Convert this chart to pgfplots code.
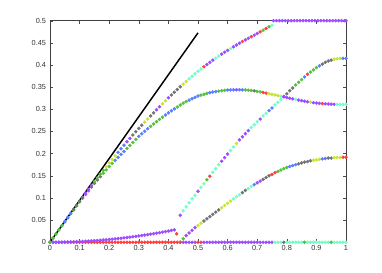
\documentclass[border=0pt]{standalone}
\usepackage{fontspec}
\setmainfont{Liberation Sans}
\usepackage{pgfplots}
\usepackage{pgfplotstable}
\pgfplotsset{compat=1.18}
\definecolor{cr}{rgb}{1,0.25,0.25}
\definecolor{cg}{rgb}{0.35,0.75,0.25}
\definecolor{cb}{rgb}{0.35,0.5,1}
\definecolor{ck}{rgb}{0.45,0.45,0.45}
\definecolor{cy}{rgb}{0.78,0.9,0.2}
\definecolor{cp}{rgb}{0.62,0.3,1}
\definecolor{ca}{rgb}{0.45,1,0.78}
\pgfplotstableread{
x y c
0.00 0.0000 g
0.01 0.0094 g
0.02 0.0188 g
0.03 0.0282 g
0.04 0.0376 g
0.05 0.0470 b
0.06 0.0563 b
0.07 0.0656 b
0.08 0.0748 k
0.09 0.0839 k
0.10 0.0930 k
0.11 0.1020 k
0.12 0.1110 p
0.13 0.1194 p
0.14 0.1282 p
0.15 0.1370 g
0.16 0.1455 g
0.17 0.1540 g
0.18 0.1623 g
0.19 0.1707 y
0.20 0.1790 y
0.21 0.1870 y
0.22 0.1950 y
0.23 0.2030 b
0.24 0.2110 b
0.25 0.2190 b
0.26 0.2268 p
0.27 0.2344 p
0.28 0.2420 k
0.29 0.2495 k
0.30 0.2570 k
0.31 0.2640 k
0.32 0.2710 y
0.33 0.2780 y
0.34 0.2850 k
0.35 0.2920 k
0.36 0.2990 p
0.37 0.3058 p
0.38 0.3125 y
0.39 0.3193 y
0.40 0.3260 p
0.41 0.3323 k
0.42 0.3385 k
0.43 0.3447 k
0.44 0.3508 k
0.45 0.3570 y
0.46 0.3628 y
0.47 0.3686 a
0.48 0.3744 a
0.49 0.3802 a
0.50 0.3860 a
0.51 0.3910 a
0.52 0.3960 r
0.53 0.4010 p
0.54 0.4060 p
0.55 0.4110 p
0.56 0.4155 a
0.57 0.4200 a
0.58 0.4245 p
0.59 0.4288 p
0.60 0.4330 p
0.61 0.4370 a
0.62 0.4410 p
0.63 0.4450 p
0.64 0.4490 p
0.65 0.4530 r
0.66 0.4566 p
0.67 0.4602 p
0.68 0.4638 r
0.69 0.4674 p
0.70 0.4710 p
0.71 0.4748 r
0.72 0.4786 g
0.73 0.4824 r
0.74 0.4862 g
0.75 0.4900 a
}\tabA
\pgfplotstableread{
x y c
0.00 0.0000 g
0.01 0.0093 g
0.02 0.0186 g
0.03 0.0278 g
0.04 0.0369 b
0.05 0.0460 b
0.06 0.0550 b
0.07 0.0640 g
0.08 0.0728 g
0.09 0.0819 g
0.10 0.0910 g
0.11 0.0995 p
0.12 0.1080 p
0.13 0.1163 p
0.14 0.1246 k
0.15 0.1330 k
0.16 0.1406 k
0.17 0.1482 k
0.18 0.1558 g
0.19 0.1634 g
0.20 0.1710 g
0.21 0.1780 g
0.22 0.1850 b
0.23 0.1918 b
0.24 0.1984 b
0.25 0.2050 b
0.26 0.2118 g
0.27 0.2186 g
0.28 0.2254 g
0.29 0.2322 g
0.30 0.2390 b
0.31 0.2448 b
0.32 0.2505 b
0.33 0.2562 b
0.34 0.2616 g
0.35 0.2670 g
0.36 0.2722 g
0.37 0.2773 g
0.38 0.2822 g
0.39 0.2871 b
0.40 0.2920 b
0.41 0.2966 b
0.42 0.3010 b
0.43 0.3052 g
0.44 0.3096 g
0.45 0.3140 g
0.46 0.3174 g
0.47 0.3207 b
0.48 0.3239 b
0.49 0.3270 b
0.50 0.3300 b
0.51 0.3320 g
0.52 0.3340 g
0.53 0.3358 g
0.54 0.3374 b
0.55 0.3390 b
0.56 0.3400 b
0.57 0.3410 g
0.58 0.3420 g
0.59 0.3428 g
0.60 0.3435 b
0.61 0.3438 b
0.62 0.3440 b
0.63 0.3441 p
0.64 0.3441 b
0.65 0.3440 b
0.66 0.3437 g
0.67 0.3432 g
0.68 0.3425 g
0.69 0.3416 k
0.70 0.3405 g
0.71 0.3393 g
0.72 0.3380 r
0.73 0.3365 r
0.74 0.3350 y
0.75 0.3338 y
0.76 0.3325 y
0.77 0.3310 y
0.78 0.3295 a
0.79 0.3280 p
0.80 0.3265 p
0.81 0.3250 p
0.82 0.3236 p
0.83 0.3222 a
0.84 0.3208 p
0.85 0.3195 p
0.86 0.3182 p
0.87 0.3170 p
0.88 0.3160 y
0.89 0.3150 p
0.90 0.3142 p
0.91 0.3135 p
0.92 0.3129 r
0.93 0.3124 p
0.94 0.3120 p
0.95 0.3117 p
0.96 0.3114 p
0.97 0.3112 a
0.98 0.3110 a
0.99 0.3110 a
1.00 0.3110 a
}\tabB
\pgfplotstableread{
x y c
0.44 0.061 p
0.45 0.071 a
0.46 0.080 a
0.47 0.089 a
0.48 0.098 a
0.49 0.106 a
0.50 0.115 p
0.51 0.124 a
0.52 0.132 a
0.53 0.141 g
0.54 0.149 r
0.55 0.158 a
0.56 0.166 a
0.57 0.175 a
0.58 0.183 p
0.59 0.191 p
0.60 0.199 p
0.61 0.207 a
0.62 0.215 a
0.63 0.223 y
0.64 0.231 p
0.65 0.238 p
0.66 0.245 p
0.67 0.252 p
0.68 0.259 a
0.69 0.265 a
0.70 0.272 a
0.71 0.278 p
0.72 0.285 a
0.73 0.291 a
0.74 0.297 b
0.75 0.303 b
0.76 0.310 a
0.77 0.316 a
0.78 0.322 a
0.79 0.329 k
0.80 0.335 k
0.81 0.342 k
0.82 0.348 k
0.83 0.355 g
0.84 0.361 g
0.85 0.367 g
0.86 0.373 b
0.87 0.379 r
0.88 0.384 g
0.89 0.389 g
0.90 0.394 g
0.91 0.398 b
0.92 0.402 k
0.93 0.406 k
0.94 0.409 k
0.95 0.411 k
0.96 0.413 y
0.97 0.414 y
0.98 0.415 y
0.99 0.415 b
1.00 0.415 b
}\tabC
\pgfplotstableread{
x y c
0.44 0.000 r
0.45 0.008 g
0.46 0.015 p
0.47 0.021 p
0.48 0.027 p
0.49 0.033 p
0.50 0.038 y
0.51 0.043 y
0.52 0.048 k
0.53 0.053 k
0.54 0.058 k
0.55 0.063 k
0.56 0.068 k
0.57 0.073 k
0.58 0.078 y
0.59 0.083 y
0.60 0.088 y
0.61 0.093 y
0.62 0.098 a
0.63 0.103 a
0.64 0.107 a
0.65 0.112 k
0.66 0.117 k
0.67 0.121 a
0.68 0.126 a
0.69 0.130 b
0.70 0.134 p
0.71 0.138 p
0.72 0.142 k
0.73 0.146 k
0.74 0.150 k
0.75 0.153 r
0.76 0.157 r
0.77 0.160 g
0.78 0.163 g
0.79 0.166 g
0.80 0.169 g
0.81 0.171 b
0.82 0.173 b
0.83 0.175 b
0.84 0.177 k
0.85 0.179 k
0.86 0.181 k
0.87 0.182 k
0.88 0.184 k
0.89 0.185 y
0.90 0.186 y
0.91 0.187 y
0.92 0.188 b
0.93 0.189 b
0.94 0.190 k
0.95 0.190 k
0.96 0.191 y
0.97 0.191 y
0.98 0.191 y
0.99 0.192 r
1.00 0.192 r
}\tabD
\pgfplotstableread{
x y c
0.00 0.00000 p
0.01 0.00002 p
0.02 0.00006 p
0.03 0.00014 p
0.04 0.00025 p
0.05 0.00040 p
0.06 0.00057 p
0.07 0.00078 p
0.08 0.00102 p
0.09 0.00129 p
0.10 0.00159 p
0.11 0.00192 p
0.12 0.00229 p
0.13 0.00268 p
0.14 0.00311 p
0.15 0.00357 p
0.16 0.00406 p
0.17 0.00459 p
0.18 0.00514 p
0.19 0.00573 p
0.20 0.00635 p
0.21 0.00700 p
0.22 0.00768 p
0.23 0.00840 p
0.24 0.00914 p
0.25 0.00992 p
0.26 0.01073 p
0.27 0.01157 p
0.28 0.01244 p
0.29 0.01335 p
0.30 0.01428 p
0.31 0.01525 p
0.32 0.01625 p
0.33 0.01728 p
0.34 0.01835 p
0.35 0.01944 p
0.36 0.02057 p
0.37 0.02173 p
0.38 0.02292 p
0.39 0.02414 p
0.40 0.02539 p
0.41 0.02668 p
0.42 0.02800 p
0.428 0.0190 r
}\tabE
\pgfplotstableread{
x y c
0.00 0 p
0.01 0 p
0.02 0 p
0.03 0 p
0.04 0 p
0.05 0 p
0.06 0 p
0.07 0 p
0.08 0 r
0.09 0 p
0.10 0 r
0.11 0 r
0.12 0 r
0.13 0 r
0.14 0 r
0.15 0 r
0.16 0 r
0.17 0 r
0.18 0 r
0.19 0 r
0.20 0 r
0.21 0 r
0.22 0 r
0.23 0 r
0.24 0 r
0.25 0 r
0.26 0 r
0.27 0 r
0.28 0 r
0.29 0 r
0.30 0 r
0.31 0 r
0.32 0 r
0.33 0 r
0.34 0 r
0.35 0 r
0.36 0 r
0.37 0 r
0.38 0 r
0.39 0 r
0.40 0 r
0.41 0 r
0.42 0 r
0.43 0 r
0.44 0 g
0.45 0 p
0.46 0 p
0.47 0 p
0.48 0 p
0.49 0 p
0.50 0 r
0.51 0 r
0.52 0 p
0.53 0 p
0.54 0 p
0.55 0 p
0.56 0 p
0.57 0 p
0.58 0 p
0.59 0 p
0.60 0 p
0.61 0 p
0.62 0 p
0.63 0 p
0.64 0 p
0.65 0 p
0.66 0 p
0.67 0 p
0.68 0 p
0.69 0 p
0.70 0 p
0.71 0 p
0.72 0 p
0.73 0 p
0.74 0 p
0.75 0 p
0.76 0 a
0.77 0 a
0.78 0 a
0.79 0 k
0.80 0 a
0.81 0 a
0.82 0 a
0.83 0 a
0.84 0 a
0.85 0 a
0.86 0 g
0.87 0 a
0.88 0 a
0.89 0 a
0.90 0 a
0.91 0 a
0.92 0 a
0.93 0 a
0.94 0 a
0.95 0 g
0.96 0 a
0.97 0 a
0.98 0 a
0.99 0 a
1.00 0 a
}\tabF
\pgfplotstableread{
x y c
0.755 0.5 p
0.765 0.5 p
0.775 0.5 p
0.785 0.5 p
0.795 0.5 p
0.805 0.5 p
0.815 0.5 p
0.825 0.5 p
0.835 0.5 p
0.845 0.5 p
0.855 0.5 p
0.865 0.5 p
0.875 0.5 p
0.885 0.5 p
0.895 0.5 p
0.905 0.5 p
0.915 0.5 p
0.925 0.5 p
0.935 0.5 p
0.945 0.5 p
0.955 0.5 p
0.965 0.5 p
0.975 0.5 p
0.985 0.5 p
0.995 0.5 p
1.000 0.5 p
}\tabG
\pgfplotsset{
  pts/.style={scatter, only marks, scatter src=explicit symbolic,
    mark size=1.1pt,
    scatter/classes={
      r={mark=*,draw=cr,fill=cr},
      g={mark=*,draw=cg,fill=cg},
      b={mark=*,draw=cb,fill=cb},
      k={mark=*,draw=ck,fill=ck},
      y={mark=*,draw=cy,fill=cy},
      p={mark=*,draw=cp,fill=cp},
      a={mark=*,draw=ca,fill=ca}}},
}
\begin{document}
\begin{tikzpicture}
\path[use as bounding box] (-37.5pt,-23pt) rectangle (249pt,181.7pt);
\begin{axis}[
  at={(0,0)}, anchor=south west,
  scale only axis, width=222pt, height=166.2pt,
  xmin=0, xmax=1, ymin=0, ymax=0.5,
  clip=false,
  axis line style={black!75},
  tick style={black!70},
  major tick length=2.3pt,
  tick align=inside,
  xtick={0,0.1,...,1.0},
  ytick={0,0.05,...,0.5},
  scaled ticks=false,
  xticklabels={0,0.1,0.2,0.3,0.4,0.5,0.6,0.7,0.8,0.9,1},
  yticklabels={0,0.05,0.1,0.15,0.2,0.25,0.3,0.35,0.4,0.45,0.5},
  ticklabel style={font=\fontsize{5.5}{6.5}\selectfont, text=black!80},
  xticklabel style={yshift=1.5pt},
  yticklabel style={xshift=0.5pt},
]
\addplot[pts] table[x=x,y=y,meta=c] {\tabF};
\addplot[pts] table[x=x,y=y,meta=c] {\tabE};
\addplot[pts] table[x=x,y=y,meta=c] {\tabD};
\addplot[pts] table[x=x,y=y,meta=c] {\tabC};
\addplot[pts] table[x=x,y=y,meta=c] {\tabB};
\addplot[pts] table[x=x,y=y,meta=c] {\tabA};
\addplot[pts] table[x=x,y=y,meta=c] {\tabG};
\addplot[black, line width=1.1pt] coordinates {(0,0) (0.5,0.4725)};
\end{axis}
\end{tikzpicture}
\end{document}
